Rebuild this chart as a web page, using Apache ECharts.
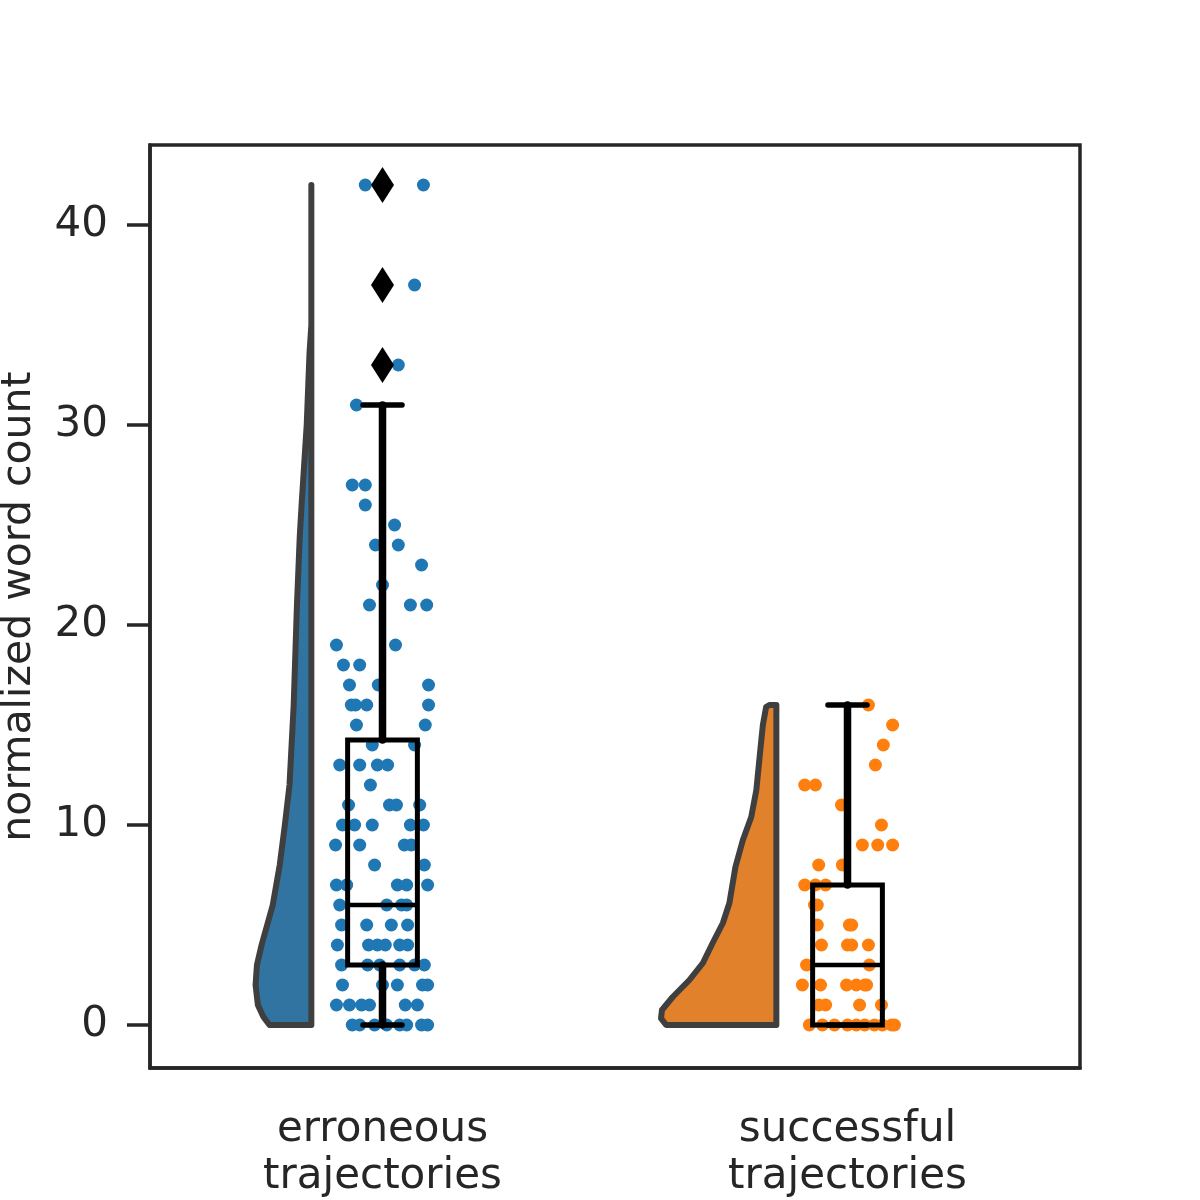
<!DOCTYPE html>
<html>
<head>
<meta charset="utf-8">
<script src="https://cdn.jsdelivr.net/npm/echarts@6/dist/echarts.min.js"></script>
<style>
  html, body { margin: 0; padding: 0; background: #fff; }
  #main { width: 1200px; height: 1200px; }
</style>
</head>
<body>
<div id="main"></div>
<script>
// categories and axis ticks
const categories = ['erroneous\ntrajectories', 'successful\ntrajectories'];
const yTicks = [0, 10, 20, 30, 40];

// box statistics: [low whisker, q1, median, q3, high whisker]
const errBox = [0, 3, 6, 14.25, 31];
const succBox = [0, 0, 3, 7, 16];
const errOutliers = [33, 37, 42];

// raw points (value) with their horizontal jitter
const errValues = [
    42, 42, 37, 33, 31, 27, 27, 26, 25, 24, 24, 23, 22,
    21, 21, 21, 19, 19, 18, 18, 17, 17, 17, 16, 16, 16, 16,
    15, 15, 14, 14, 13, 13, 13, 13, 12, 11, 11, 11, 11,
    10, 10, 10, 10, 10, 9, 9, 9, 9, 8, 8,
    7, 7, 7, 7, 7, 6, 6, 6, 6, 5, 5, 5, 5,
    4, 4, 4, 4, 4, 4, 3, 3, 3, 3, 3, 3,
    2, 2, 2, 2, 2, 1, 1, 1, 1, 1, 1,
    0, 0, 0, 0, 0, 0, 0, 0
];
const errJitter = [
    -0.037, 0.088, 0.069, 0.034, -0.056, -0.065, -0.037, -0.037, 0.026, -0.015, 0.034, 0.084, 0,
    -0.028, 0.060, 0.095, -0.099, 0.028, -0.084, -0.049, -0.071, -0.009, 0.099, -0.067, -0.058, -0.034, 0.099,
    -0.056, 0.092, -0.022, 0.069, -0.092, -0.049, -0.011, 0.011, -0.026, -0.073, 0.015, 0.030, 0.080,
    -0.086, -0.060, -0.022, 0.060, 0.088, -0.101, -0.049, 0.047, 0.062, -0.017, 0.090,
    -0.099, -0.077, 0.032, 0.052, 0.097, -0.092, 0.009, 0.041, 0.052, -0.088, -0.034, 0.019, 0.054,
    -0.097, -0.030, -0.011, 0.006, 0.037, 0.054, -0.088, -0.032, -0.006, 0.037, 0.069, 0.090,
    -0.086, 0, 0.032, 0.086, 0.097, -0.099, -0.071, -0.045, -0.028, 0.049, 0.075,
    -0.065, -0.049, -0.017, 0.009, 0.037, 0.052, 0.084, 0.097
];
const succValues = [
    16, 15, 14, 13, 12, 12, 11, 10, 9, 9, 9, 8, 8,
    7, 7, 7, 6, 6, 5, 5, 5, 4, 4, 4, 4, 3, 3,
    2, 2, 2, 2, 2, 2, 1, 1, 1, 1,
    0, 0, 0, 0, 0, 0, 0, 0, 0, 0
];
const succJitter = [
    0.045, 0.097, 0.077, 0.060, -0.092, -0.069, -0.013, 0.073, 0.032, 0.065, 0.097, -0.062, -0.011,
    -0.092, -0.069, -0.047, -0.071, -0.065, -0.065, 0.004, 0.009, -0.056, 0, 0.009, 0.045, -0.088, 0.047,
    -0.097, -0.058, -0.002, 0.019, 0.037, 0.041, -0.062, -0.047, 0.026, 0.073,
    -0.082, -0.054, -0.028, 0, 0.019, 0.037, 0.058, 0.075, 0.095, 0.101
];

// half-violin outlines: value and left edge (offset from category centre)
const errViolinY = [42, 35, 33.6, 30, 26, 24.4, 21, 16, 12, 10, 8, 6, 4, 3, 2, 1, 0.4, 0];
const errViolinX = [-0.153, -0.153, -0.157, -0.163, -0.174, -0.178, -0.184, -0.191, -0.200, -0.210, -0.221, -0.236, -0.260, -0.270, -0.273, -0.268, -0.256, -0.243];
const succViolinY = [16, 15.9, 15, 13.4, 11.75, 10.4, 9.25, 7.9, 6.1, 5.1, 4.1, 3.1, 2.25, 1.4, 0.75, 0.33, 0];
const succViolinX = [-0.168, -0.175, -0.182, -0.189, -0.196, -0.207, -0.225, -0.241, -0.254, -0.268, -0.290, -0.311, -0.340, -0.376, -0.399, -0.401, -0.390];

const violinEdge = -0.153;
const violinColors = ['#3274a1', '#e1812c'];
const dotColors = ['#1f77b4', '#ff7f0e'];
const ink = '#262626';
const font = 'DejaVu Sans';

const violinY = [errViolinY, succViolinY];
const violinX = [errViolinX, succViolinX];

function renderViolin(params, api) {
    const i = params.dataIndex;
    const ys = violinY[i];
    const xs = violinX[i];
    const pts = ys.map(function (y, k) { return api.coord([i + xs[k], y]); });
    pts.push(api.coord([i + violinEdge, ys[ys.length - 1]]));
    pts.push(api.coord([i + violinEdge, ys[0]]));
    return {
        type: 'polygon',
        shape: { points: pts },
        style: { fill: violinColors[i], stroke: '#3f3f3f', lineWidth: 6, lineJoin: 'round' }
    };
}

function seg(api, a, b, w) {
    const p = api.coord(a), q = api.coord(b);
    return {
        type: 'line',
        shape: { x1: p[0], y1: p[1], x2: q[0], y2: q[1] },
        style: { stroke: '#000', lineWidth: w, lineCap: 'round' }
    };
}

function renderBox(params, api) {
    const i = api.value(0);
    const lo = api.value(1), q1 = api.value(2), med = api.value(3), q3 = api.value(4), hi = api.value(5);
    const half = 0.075, cap = 0.042;
    const tl = api.coord([i - half, q3]);
    const br = api.coord([i + half, q1]);
    const my = api.coord([i, med])[1];
    return {
        type: 'group',
        children: [
            seg(api, [i, q3], [i, hi], 7.5),
            seg(api, [i, lo], [i, q1], 7.5),
            seg(api, [i - cap, hi], [i + cap, hi], 5.5),
            seg(api, [i - cap, lo], [i + cap, lo], 5.5),
            {
                type: 'rect',
                shape: { x: tl[0], y: tl[1], width: br[0] - tl[0], height: br[1] - tl[1] },
                style: { fill: 'none', stroke: '#000', lineWidth: 5 }
            },
            {
                type: 'line',
                shape: { x1: tl[0], y1: my, x2: br[0], y2: my },
                style: { stroke: '#000', lineWidth: 4.5 }
            }
        ]
    };
}

let myChart = echarts.init(document.getElementById('main'));

let option = {
    animation: false,
    backgroundColor: '#fff',
    grid: {
        left: 150, right: 120, top: 145, bottom: 132,
        outerBoundsMode: 'none',
        containLabel: false,
        show: true, borderColor: ink, borderWidth: 3.5, backgroundColor: 'transparent'
    },
    xAxis: [
        {
            type: 'category',
            data: categories,
            boundaryGap: true,
            axisLine: { show: true, onZero: false, lineStyle: { color: ink, width: 3.5 } },
            axisTick: { alignWithLabel: true, length: 23, lineStyle: { color: ink, width: 3.5 } },
            axisLabel: { fontSize: 42, color: ink, fontFamily: font, margin: 39, lineHeight: 47 },
            splitLine: { show: false }
        },
        { type: 'value', min: -0.5, max: 1.5, show: false }
    ],
    yAxis: {
        type: 'value',
        min: -2.15,
        max: 44,
        name: 'normalized word count',
        nameLocation: 'middle',
        nameGap: 110,
        nameTextStyle: { fontSize: 41, color: ink, fontFamily: font },
        axisLine: { show: true, onZero: false, lineStyle: { color: ink, width: 3.5 } },
        axisTick: { show: true, length: 23, customValues: yTicks, lineStyle: { color: ink, width: 3.5 } },
        axisLabel: { fontSize: 42, color: ink, fontFamily: font, margin: 42, customValues: yTicks },
        splitLine: { show: false }
    },
    series: [
        {
            type: 'custom',
            xAxisIndex: 1,
            renderItem: renderViolin,
            data: [[0, 0], [1, 0]],
            encode: { x: 0, y: 1 },
            clip: false,
            z: 1
        },
        {
            type: 'scatter',
            xAxisIndex: 1,
            symbolSize: 13,
            itemStyle: { color: dotColors[0], opacity: 1 },
            data: errValues.map(function (v, k) { return [errJitter[k], v]; }),
            z: 2
        },
        {
            type: 'scatter',
            xAxisIndex: 1,
            symbolSize: 13,
            itemStyle: { color: dotColors[1], opacity: 1 },
            data: succValues.map(function (v, k) { return [1 + succJitter[k], v]; }),
            z: 2
        },
        {
            type: 'custom',
            xAxisIndex: 1,
            renderItem: renderBox,
            data: [[0].concat(errBox), [1].concat(succBox)],
            encode: { x: 0, y: [1, 5] },
            clip: false,
            z: 3
        },
        {
            type: 'scatter',
            xAxisIndex: 1,
            symbol: 'diamond',
            symbolSize: [23, 36],
            itemStyle: { color: '#000', opacity: 1 },
            data: errOutliers.map(function (v) { return [0, v]; }),
            z: 4
        }
    ]
};

myChart.setOption(option);
</script>
</body>
</html>
